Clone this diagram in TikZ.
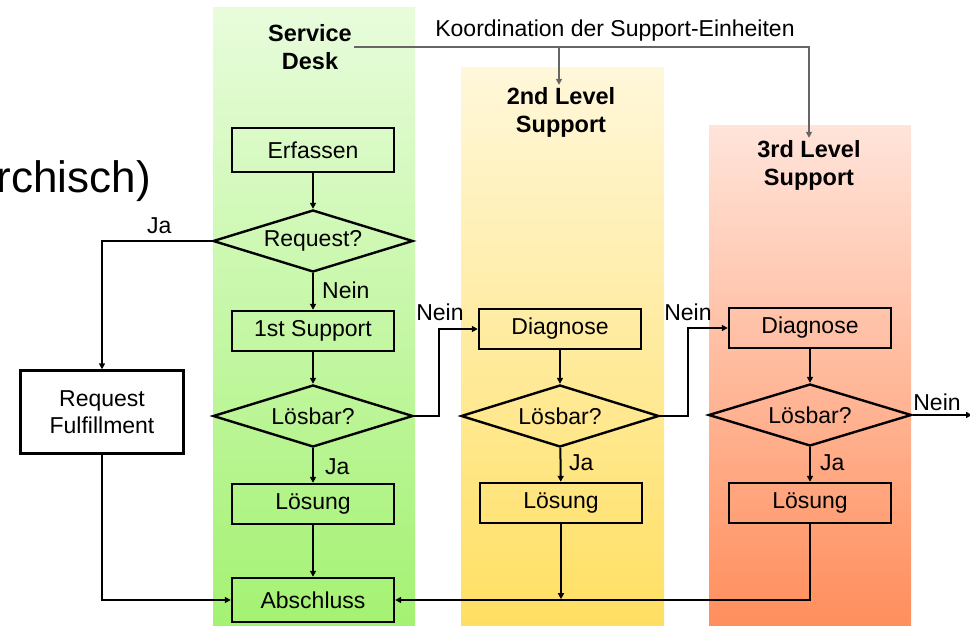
\documentclass[tikz,border=0pt]{standalone}
\usepackage{fontspec}
\setmainfont{Liberation Sans}
\usetikzlibrary{shapes.geometric,arrows.meta}

\definecolor{gruenOben}{HTML}{E8FCDC}
\definecolor{gruenUnten}{HTML}{A4F272}
\definecolor{gelbOben}{HTML}{FFF7DA}
\definecolor{gelbUnten}{HTML}{FFDF62}
\definecolor{rotOben}{HTML}{FFE4DA}
\definecolor{rotUnten}{HTML}{FF8E5C}

\begin{document}
\begin{tikzpicture}[
    x=1pt,
    y=-1pt,
    line join=miter,
    schritt/.style={
        draw,
        line width=2.4pt,
        minimum width=162pt,
        minimum height=40pt,
        inner sep=0pt,
        font=\fontsize{23}{27.5}\selectfont
    },
    frage/.style={
        draw,
        diamond,
        aspect=3.2,
        line width=2.4pt,
        minimum width=200pt,
        minimum height=62pt,
        inner sep=0pt,
        font=\fontsize{23}{27.5}\selectfont
    },
    pfeil/.style={
        line width=2pt,
        -{Triangle[length=6pt,width=6pt]}
    },
    koord/.style={
        draw=black!60,
        line width=1.6pt,
        -{Triangle[length=6pt,width=6pt]}
    },
    marke/.style={
        inner sep=0pt,
        font=\fontsize{23}{27.5}\selectfont
    },
    titel/.style={
        inner sep=2pt,
        align=center,
        font=\bfseries\fontsize{23.5}{28}\selectfont
    }
]

\useasboundingbox (0,0) rectangle (970,626);

% -------------------------------------------------
% Spalten der Support-Einheiten
% -------------------------------------------------

\shade[top color=gruenOben, bottom color=gruenUnten] (213,8) rectangle (415,626);
\shade[top color=gelbOben, bottom color=gelbUnten] (461,68) rectangle (664,626);
\shade[top color=rotOben, bottom color=rotUnten] (709,125) rectangle (911,626);

% Rest der Folienueberschrift
\node[anchor=base east, inner sep=0pt, font=\fontsize{44}{50}\selectfont]
    (folie) at (151,192) {rchisch)};

% -------------------------------------------------
% Ueberschriften
% -------------------------------------------------

\node[titel] (sdTitel) at (310,47) {Service\\Desk};
\node[titel] (l2Titel) at (561,112) {2nd Level\\Support};
\node[titel] (l3Titel) at (809,165) {3rd Level\\Support};

\node[marke, anchor=base] (koordText) at (615,37)
    {Koordination der Support-Einheiten};

% Koordination
\coordinate (abzweig) at (559,47);
\draw[koord] (sdTitel.east) -| (l3Titel.north);
\draw[koord] (abzweig) -- (abzweig |- l2Titel.north);

% -------------------------------------------------
% Service Desk
% -------------------------------------------------

\node[schritt, minimum height=44pt] (erfassen) at (313,150) {Erfassen};
\node[frage] (request) at (313,241) {Request?};
\node[schritt] (support1) at (313,331) {1st Support};
\node[frage] (loesbar1) at (313,416) {Lösbar?};
\node[schritt] (loesung1) at (313,504) {Lösung};
\node[schritt, minimum height=44pt] (abschluss) at (313,600) {Abschluss};

\node[schritt, minimum width=163pt, minimum height=83pt, align=center]
    (fulfill) at (102,412) {Request\\Fulfillment};

% -------------------------------------------------
% 2nd und 3rd Level
% -------------------------------------------------

\node[schritt] (diagnose2) at (560,329) {Diagnose};
\node[frage, minimum width=198pt] (loesbar2) at (560,416) {Lösbar?};
\node[schritt] (loesung2) at (561,503) {Lösung};

\node[schritt] (diagnose3) at (810,328) {Diagnose};
\node[frage, minimum width=203pt] (loesbar3) at (810,415) {Lösbar?};
\node[schritt] (loesung3) at (810,503) {Lösung};

% -------------------------------------------------
% Ablauf
% -------------------------------------------------

\draw[pfeil] (erfassen) -- (request);
\draw[pfeil] (request) -- (support1);
\draw[pfeil] (support1) -- (loesbar1);
\draw[pfeil] (loesbar1) -- (loesung1);
\draw[pfeil] (loesung1) -- (abschluss);

\draw[pfeil] (request.west) -| (fulfill.north);
\draw[pfeil] (fulfill.south) |- (abschluss.west);

\draw[pfeil] (loesbar1.east) -- ++(25,0) |- (diagnose2.west);
\draw[pfeil] (diagnose2) -- (loesbar2);
\draw[pfeil] (loesbar2) -- (loesung2);
\draw[pfeil] (loesung2.south) -- ++(0,75);

\draw[pfeil] (loesbar2.east) -- ++(28,0) |- (diagnose3.west);
\draw[pfeil] (diagnose3) -- (loesbar3);
\draw[pfeil] (loesbar3) -- (loesung3);
\draw[pfeil] (loesung3.south) |- (abschluss.east);

\coordinate (rand) at (972,415);
\draw[pfeil] (loesbar3.east) -- (rand);

% Beschriftungen
\node[marke, anchor=west] (ja0) at (147,226) {Ja};
\node[marke, anchor=west] (nein1) at (322,290) {Nein};
\node[marke, anchor=west] (ja1) at (325,467) {Ja};
\node[marke] (nein2) at (440,312) {Nein};
\node[marke, anchor=west] (ja2) at (569,463) {Ja};
\node[marke] (nein3) at (688,312) {Nein};
\node[marke, anchor=west] (ja3) at (820,463) {Ja};
\node[marke] (nein4) at (937,402) {Nein};

\end{tikzpicture}
\end{document}
